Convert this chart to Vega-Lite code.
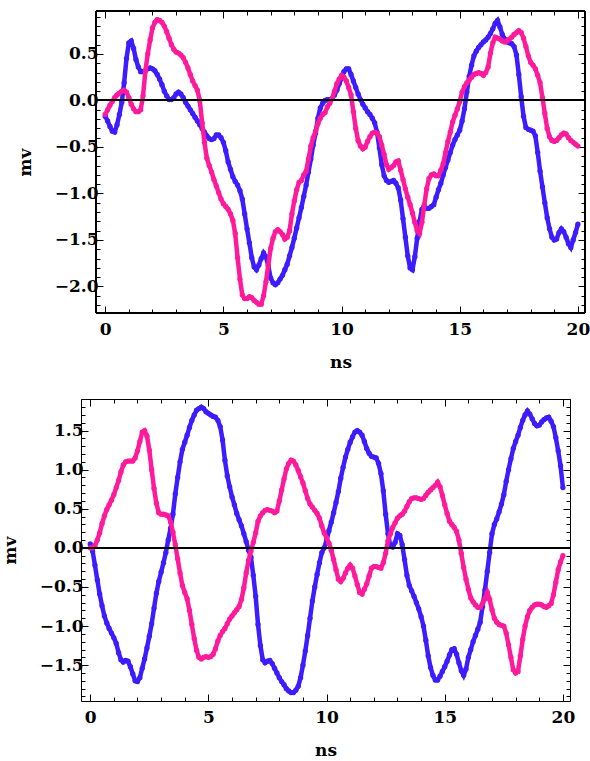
{
  "$schema": "https://vega.github.io/schema/vega-lite/v6.json",
  "background": "white",
  "padding": {"left": 0, "top": 7, "right": 0, "bottom": 0},
  "spacing": 19,
  "config": {
    "view": {"stroke": "#000000", "strokeWidth": 1},
    "axis": {
      "labelFont": "DejaVu Serif", "labelFontWeight": "bold", "labelFontSize": 17, "labelColor": "#000000",
      "titleFont": "DejaVu Serif", "titleFontWeight": "bold", "titleFontSize": 17, "titleColor": "#000000",
      "domain": false, "grid": false, "tickColor": "#000000", "tickWidth": 1,
      "labelOverlap": false, "labelFlush": false, "labelBound": false
    }
  },
  "datasets": {
    "top": [
      {"ns":0,"blue":-0.17,"pink":-0.15},{"ns":0.1,"blue":-0.22,"pink":-0.10},{"ns":0.2,"blue":-0.28,"pink":-0.05},{"ns":0.3,"blue":-0.33,"pink":-0.01},{"ns":0.4,"blue":-0.34,"pink":0.03},
      {"ns":0.5,"blue":-0.26,"pink":0.06},{"ns":0.6,"blue":-0.15,"pink":0.08},{"ns":0.7,"blue":-0.02,"pink":0.10},{"ns":0.8,"blue":0.19,"pink":0.11},{"ns":0.9,"blue":0.45,"pink":0.09},
      {"ns":1.0,"blue":0.62,"pink":0.03},{"ns":1.1,"blue":0.64,"pink":-0.04},{"ns":1.2,"blue":0.56,"pink":-0.09},{"ns":1.3,"blue":0.44,"pink":-0.12},{"ns":1.4,"blue":0.36,"pink":-0.12},
      {"ns":1.5,"blue":0.31,"pink":-0.10},{"ns":1.6,"blue":0.31,"pink":0.05},{"ns":1.7,"blue":0.32,"pink":0.32},{"ns":1.8,"blue":0.34,"pink":0.50},{"ns":1.9,"blue":0.35,"pink":0.65},
      {"ns":2.0,"blue":0.34,"pink":0.78},{"ns":2.1,"blue":0.32,"pink":0.84},{"ns":2.2,"blue":0.28,"pink":0.87},{"ns":2.3,"blue":0.23,"pink":0.86},{"ns":2.4,"blue":0.17,"pink":0.84},
      {"ns":2.5,"blue":0.10,"pink":0.80},{"ns":2.6,"blue":0.05,"pink":0.74},{"ns":2.7,"blue":0.01,"pink":0.67},{"ns":2.8,"blue":0.01,"pink":0.60},{"ns":2.9,"blue":0.03,"pink":0.55},
      {"ns":3.0,"blue":0.07,"pink":0.52},{"ns":3.1,"blue":0.09,"pink":0.51},{"ns":3.2,"blue":0.07,"pink":0.49},{"ns":3.3,"blue":0.03,"pink":0.46},{"ns":3.4,"blue":-0.02,"pink":0.41},
      {"ns":3.5,"blue":-0.06,"pink":0.35},{"ns":3.6,"blue":-0.10,"pink":0.28},{"ns":3.7,"blue":-0.14,"pink":0.21},{"ns":3.8,"blue":-0.18,"pink":0.16},{"ns":3.9,"blue":-0.22,"pink":0.11},
      {"ns":4.0,"blue":-0.26,"pink":0.00},{"ns":4.1,"blue":-0.30,"pink":-0.24},{"ns":4.2,"blue":-0.34,"pink":-0.45},{"ns":4.3,"blue":-0.38,"pink":-0.62},{"ns":4.4,"blue":-0.41,"pink":-0.70},
      {"ns":4.5,"blue":-0.42,"pink":-0.77},{"ns":4.6,"blue":-0.41,"pink":-0.85},{"ns":4.7,"blue":-0.37,"pink":-0.92},{"ns":4.8,"blue":-0.37,"pink":-0.99},{"ns":4.9,"blue":-0.40,"pink":-1.06},
      {"ns":5.0,"blue":-0.45,"pink":-1.11},{"ns":5.1,"blue":-0.54,"pink":-1.14},{"ns":5.2,"blue":-0.66,"pink":-1.17},{"ns":5.3,"blue":-0.74,"pink":-1.22},{"ns":5.4,"blue":-0.82,"pink":-1.29},
      {"ns":5.5,"blue":-0.87,"pink":-1.43},{"ns":5.6,"blue":-0.91,"pink":-1.69},{"ns":5.7,"blue":-0.97,"pink":-1.92},{"ns":5.8,"blue":-1.06,"pink":-2.09},{"ns":5.9,"blue":-1.22,"pink":-2.13},
      {"ns":6.0,"blue":-1.38,"pink":-2.13},{"ns":6.1,"blue":-1.53,"pink":-2.11},{"ns":6.2,"blue":-1.69,"pink":-2.12},{"ns":6.3,"blue":-1.79,"pink":-2.15},{"ns":6.4,"blue":-1.82,"pink":-2.17},
      {"ns":6.5,"blue":-1.77,"pink":-2.19},{"ns":6.6,"blue":-1.70,"pink":-2.19},{"ns":6.7,"blue":-1.64,"pink":-2.10},{"ns":6.8,"blue":-1.68,"pink":-1.95},{"ns":6.9,"blue":-1.78,"pink":-1.77},
      {"ns":7.0,"blue":-1.91,"pink":-1.59},{"ns":7.1,"blue":-1.96,"pink":-1.48},{"ns":7.2,"blue":-1.98,"pink":-1.41},{"ns":7.3,"blue":-1.96,"pink":-1.39},{"ns":7.4,"blue":-1.92,"pink":-1.41},
      {"ns":7.5,"blue":-1.88,"pink":-1.44},{"ns":7.6,"blue":-1.82,"pink":-1.49},{"ns":7.7,"blue":-1.76,"pink":-1.47},{"ns":7.8,"blue":-1.67,"pink":-1.40},{"ns":7.9,"blue":-1.58,"pink":-1.22},
      {"ns":8.0,"blue":-1.48,"pink":-1.08},{"ns":8.1,"blue":-1.37,"pink":-0.96},{"ns":8.2,"blue":-1.26,"pink":-0.88},{"ns":8.3,"blue":-1.15,"pink":-0.86},{"ns":8.4,"blue":-1.03,"pink":-0.80},
      {"ns":8.5,"blue":-0.91,"pink":-0.76},{"ns":8.6,"blue":-0.77,"pink":-0.63},{"ns":8.7,"blue":-0.63,"pink":-0.49},{"ns":8.8,"blue":-0.48,"pink":-0.40},{"ns":8.9,"blue":-0.35,"pink":-0.33},
      {"ns":9.0,"blue":-0.19,"pink":-0.25},{"ns":9.1,"blue":-0.08,"pink":-0.19},{"ns":9.2,"blue":-0.03,"pink":-0.15},{"ns":9.3,"blue":0.00,"pink":-0.13},{"ns":9.4,"blue":0.01,"pink":-0.07},
      {"ns":9.5,"blue":0.01,"pink":-0.03},{"ns":9.6,"blue":0.02,"pink":0.02},{"ns":9.7,"blue":0.06,"pink":0.10},{"ns":9.8,"blue":0.11,"pink":0.18},{"ns":9.9,"blue":0.18,"pink":0.23},
      {"ns":10.0,"blue":0.24,"pink":0.27},{"ns":10.1,"blue":0.31,"pink":0.25},{"ns":10.2,"blue":0.34,"pink":0.21},{"ns":10.3,"blue":0.34,"pink":0.14},{"ns":10.4,"blue":0.28,"pink":0.06},
      {"ns":10.5,"blue":0.21,"pink":-0.12},{"ns":10.6,"blue":0.14,"pink":-0.30},{"ns":10.7,"blue":0.07,"pink":-0.43},{"ns":10.8,"blue":0.01,"pink":-0.49},{"ns":10.9,"blue":-0.04,"pink":-0.52},
      {"ns":11.0,"blue":-0.08,"pink":-0.50},{"ns":11.1,"blue":-0.12,"pink":-0.44},{"ns":11.2,"blue":-0.15,"pink":-0.39},{"ns":11.3,"blue":-0.19,"pink":-0.35},{"ns":11.4,"blue":-0.24,"pink":-0.34},
      {"ns":11.5,"blue":-0.34,"pink":-0.35},{"ns":11.6,"blue":-0.51,"pink":-0.39},{"ns":11.7,"blue":-0.69,"pink":-0.48},{"ns":11.8,"blue":-0.81,"pink":-0.58},{"ns":11.9,"blue":-0.86,"pink":-0.69},
      {"ns":12.0,"blue":-0.88,"pink":-0.74},{"ns":12.1,"blue":-0.87,"pink":-0.72},{"ns":12.2,"blue":-0.86,"pink":-0.70},{"ns":12.3,"blue":-0.89,"pink":-0.66},{"ns":12.4,"blue":-0.94,"pink":-0.65},
      {"ns":12.5,"blue":-1.07,"pink":-0.75},{"ns":12.6,"blue":-1.27,"pink":-0.85},{"ns":12.7,"blue":-1.47,"pink":-0.95},{"ns":12.8,"blue":-1.67,"pink":-1.04},{"ns":12.9,"blue":-1.80,"pink":-1.12},
      {"ns":13.0,"blue":-1.82,"pink":-1.21},{"ns":13.1,"blue":-1.68,"pink":-1.31},{"ns":13.2,"blue":-1.48,"pink":-1.40},{"ns":13.3,"blue":-1.30,"pink":-1.43},{"ns":13.4,"blue":-1.17,"pink":-1.31},
      {"ns":13.5,"blue":-1.13,"pink":-1.12},{"ns":13.6,"blue":-1.16,"pink":-0.95},{"ns":13.7,"blue":-1.16,"pink":-0.84},{"ns":13.8,"blue":-1.14,"pink":-0.80},{"ns":13.9,"blue":-1.12,"pink":-0.79},
      {"ns":14.0,"blue":-1.04,"pink":-0.81},{"ns":14.1,"blue":-0.96,"pink":-0.81},{"ns":14.2,"blue":-0.89,"pink":-0.75},{"ns":14.3,"blue":-0.80,"pink":-0.68},{"ns":14.4,"blue":-0.72,"pink":-0.56},
      {"ns":14.5,"blue":-0.64,"pink":-0.44},{"ns":14.6,"blue":-0.56,"pink":-0.34},{"ns":14.7,"blue":-0.48,"pink":-0.23},{"ns":14.8,"blue":-0.42,"pink":-0.16},{"ns":14.9,"blue":-0.37,"pink":-0.09},
      {"ns":15.0,"blue":-0.32,"pink":-0.01},{"ns":15.1,"blue":-0.22,"pink":0.09},{"ns":15.2,"blue":-0.09,"pink":0.15},{"ns":15.3,"blue":0.09,"pink":0.19},{"ns":15.4,"blue":0.26,"pink":0.22},
      {"ns":15.5,"blue":0.38,"pink":0.25},{"ns":15.6,"blue":0.48,"pink":0.28},{"ns":15.7,"blue":0.53,"pink":0.29},{"ns":15.8,"blue":0.57,"pink":0.30},{"ns":15.9,"blue":0.60,"pink":0.29},
      {"ns":16.0,"blue":0.63,"pink":0.27},{"ns":16.1,"blue":0.65,"pink":0.30},{"ns":16.2,"blue":0.68,"pink":0.36},{"ns":16.3,"blue":0.72,"pink":0.51},{"ns":16.4,"blue":0.77,"pink":0.62},
      {"ns":16.5,"blue":0.83,"pink":0.68},{"ns":16.6,"blue":0.86,"pink":0.67},{"ns":16.7,"blue":0.79,"pink":0.66},{"ns":16.8,"blue":0.71,"pink":0.64},{"ns":16.9,"blue":0.66,"pink":0.63},
      {"ns":17.0,"blue":0.63,"pink":0.64},{"ns":17.1,"blue":0.62,"pink":0.66},{"ns":17.2,"blue":0.61,"pink":0.68},{"ns":17.3,"blue":0.58,"pink":0.71},{"ns":17.4,"blue":0.49,"pink":0.73},
      {"ns":17.5,"blue":0.28,"pink":0.75},{"ns":17.6,"blue":0.04,"pink":0.73},{"ns":17.7,"blue":-0.17,"pink":0.67},{"ns":17.8,"blue":-0.29,"pink":0.58},{"ns":17.9,"blue":-0.31,"pink":0.48},
      {"ns":18.0,"blue":-0.32,"pink":0.41},{"ns":18.1,"blue":-0.33,"pink":0.38},{"ns":18.2,"blue":-0.38,"pink":0.34},{"ns":18.3,"blue":-0.56,"pink":0.27},{"ns":18.4,"blue":-0.76,"pink":0.19},
      {"ns":18.5,"blue":-0.93,"pink":0.03},{"ns":18.6,"blue":-1.10,"pink":-0.14},{"ns":18.7,"blue":-1.26,"pink":-0.30},{"ns":18.8,"blue":-1.38,"pink":-0.39},{"ns":18.9,"blue":-1.47,"pink":-0.43},
      {"ns":19.0,"blue":-1.50,"pink":-0.44},{"ns":19.1,"blue":-1.49,"pink":-0.43},{"ns":19.2,"blue":-1.42,"pink":-0.40},{"ns":19.3,"blue":-1.38,"pink":-0.37},{"ns":19.4,"blue":-1.41,"pink":-0.35},
      {"ns":19.5,"blue":-1.47,"pink":-0.36},{"ns":19.6,"blue":-1.54,"pink":-0.40},{"ns":19.7,"blue":-1.58,"pink":-0.43},{"ns":19.8,"blue":-1.50,"pink":-0.45},{"ns":19.9,"blue":-1.42,"pink":-0.47},
      {"ns":20.0,"blue":-1.33,"pink":-0.49}
    ],
    "bottom": [
      {"ns":0,"blue":0.05,"pink":0.00},{"ns":0.1,"blue":-0.04,"pink":0.00},{"ns":0.2,"blue":-0.22,"pink":0.03},{"ns":0.3,"blue":-0.41,"pink":0.10},{"ns":0.4,"blue":-0.59,"pink":0.19},
      {"ns":0.5,"blue":-0.74,"pink":0.31},{"ns":0.6,"blue":-0.87,"pink":0.41},{"ns":0.7,"blue":-0.96,"pink":0.49},{"ns":0.8,"blue":-1.03,"pink":0.55},{"ns":0.9,"blue":-1.09,"pink":0.61},
      {"ns":1.0,"blue":-1.15,"pink":0.68},{"ns":1.1,"blue":-1.22,"pink":0.77},{"ns":1.2,"blue":-1.34,"pink":0.86},{"ns":1.3,"blue":-1.43,"pink":0.97},{"ns":1.4,"blue":-1.46,"pink":1.06},
      {"ns":1.5,"blue":-1.44,"pink":1.10},{"ns":1.6,"blue":-1.45,"pink":1.11},{"ns":1.7,"blue":-1.52,"pink":1.11},{"ns":1.8,"blue":-1.61,"pink":1.11},{"ns":1.9,"blue":-1.70,"pink":1.15},
      {"ns":2.0,"blue":-1.71,"pink":1.24},{"ns":2.1,"blue":-1.66,"pink":1.36},{"ns":2.2,"blue":-1.54,"pink":1.48},{"ns":2.3,"blue":-1.42,"pink":1.50},{"ns":2.4,"blue":-1.28,"pink":1.43},
      {"ns":2.5,"blue":-1.13,"pink":1.25},{"ns":2.6,"blue":-0.97,"pink":1.00},{"ns":2.7,"blue":-0.77,"pink":0.76},{"ns":2.8,"blue":-0.58,"pink":0.57},{"ns":2.9,"blue":-0.43,"pink":0.45},
      {"ns":3.0,"blue":-0.31,"pink":0.43},{"ns":3.1,"blue":-0.19,"pink":0.43},{"ns":3.2,"blue":-0.06,"pink":0.42},{"ns":3.3,"blue":0.10,"pink":0.41},{"ns":3.4,"blue":0.25,"pink":0.33},
      {"ns":3.5,"blue":0.43,"pink":0.20},{"ns":3.6,"blue":0.69,"pink":0.04},{"ns":3.7,"blue":0.90,"pink":-0.14},{"ns":3.8,"blue":1.10,"pink":-0.32},{"ns":3.9,"blue":1.26,"pink":-0.48},
      {"ns":4.0,"blue":1.35,"pink":-0.57},{"ns":4.1,"blue":1.44,"pink":-0.65},{"ns":4.2,"blue":1.54,"pink":-0.80},{"ns":4.3,"blue":1.63,"pink":-0.98},{"ns":4.4,"blue":1.70,"pink":-1.16},
      {"ns":4.5,"blue":1.76,"pink":-1.31},{"ns":4.6,"blue":1.78,"pink":-1.40},{"ns":4.7,"blue":1.80,"pink":-1.42},{"ns":4.8,"blue":1.78,"pink":-1.40},{"ns":4.9,"blue":1.74,"pink":-1.39},
      {"ns":5.0,"blue":1.72,"pink":-1.40},{"ns":5.1,"blue":1.70,"pink":-1.39},{"ns":5.2,"blue":1.68,"pink":-1.36},{"ns":5.3,"blue":1.67,"pink":-1.29},{"ns":5.4,"blue":1.63,"pink":-1.19},
      {"ns":5.5,"blue":1.55,"pink":-1.12},{"ns":5.6,"blue":1.38,"pink":-1.07},{"ns":5.7,"blue":1.12,"pink":-1.03},{"ns":5.8,"blue":0.92,"pink":-0.97},{"ns":5.9,"blue":0.78,"pink":-0.91},
      {"ns":6.0,"blue":0.65,"pink":-0.87},{"ns":6.1,"blue":0.55,"pink":-0.83},{"ns":6.2,"blue":0.44,"pink":-0.79},{"ns":6.3,"blue":0.36,"pink":-0.75},{"ns":6.4,"blue":0.28,"pink":-0.66},
      {"ns":6.5,"blue":0.18,"pink":-0.51},{"ns":6.6,"blue":0.08,"pink":-0.32},{"ns":6.7,"blue":-0.03,"pink":-0.16},{"ns":6.8,"blue":-0.12,"pink":-0.04},{"ns":6.9,"blue":-0.35,"pink":0.07},
      {"ns":7.0,"blue":-0.62,"pink":0.19},{"ns":7.1,"blue":-0.98,"pink":0.34},{"ns":7.2,"blue":-1.25,"pink":0.41},{"ns":7.3,"blue":-1.43,"pink":0.45},{"ns":7.4,"blue":-1.47,"pink":0.48},
      {"ns":7.5,"blue":-1.45,"pink":0.49},{"ns":7.6,"blue":-1.44,"pink":0.48},{"ns":7.7,"blue":-1.48,"pink":0.47},{"ns":7.8,"blue":-1.54,"pink":0.45},{"ns":7.9,"blue":-1.60,"pink":0.47},
      {"ns":8.0,"blue":-1.66,"pink":0.60},{"ns":8.1,"blue":-1.71,"pink":0.74},{"ns":8.2,"blue":-1.75,"pink":0.88},{"ns":8.3,"blue":-1.80,"pink":1.01},{"ns":8.4,"blue":-1.83,"pink":1.08},
      {"ns":8.5,"blue":-1.85,"pink":1.12},{"ns":8.6,"blue":-1.85,"pink":1.11},{"ns":8.7,"blue":-1.82,"pink":1.06},{"ns":8.8,"blue":-1.77,"pink":0.99},{"ns":8.9,"blue":-1.66,"pink":0.91},
      {"ns":9.0,"blue":-1.50,"pink":0.83},{"ns":9.1,"blue":-1.32,"pink":0.73},{"ns":9.2,"blue":-1.12,"pink":0.63},{"ns":9.3,"blue":-0.90,"pink":0.56},{"ns":9.4,"blue":-0.68,"pink":0.52},
      {"ns":9.5,"blue":-0.50,"pink":0.48},{"ns":9.6,"blue":-0.34,"pink":0.44},{"ns":9.7,"blue":-0.19,"pink":0.38},{"ns":9.8,"blue":-0.06,"pink":0.28},{"ns":9.9,"blue":0.00,"pink":0.19},
      {"ns":10.0,"blue":0.10,"pink":0.13},{"ns":10.1,"blue":0.22,"pink":0.06},{"ns":10.2,"blue":0.33,"pink":-0.03},{"ns":10.3,"blue":0.45,"pink":-0.15},{"ns":10.4,"blue":0.58,"pink":-0.28},
      {"ns":10.5,"blue":0.72,"pink":-0.40},{"ns":10.6,"blue":0.89,"pink":-0.43},{"ns":10.7,"blue":1.03,"pink":-0.39},{"ns":10.8,"blue":1.16,"pink":-0.32},{"ns":10.9,"blue":1.26,"pink":-0.26},
      {"ns":11.0,"blue":1.35,"pink":-0.22},{"ns":11.1,"blue":1.42,"pink":-0.26},{"ns":11.2,"blue":1.48,"pink":-0.36},{"ns":11.3,"blue":1.50,"pink":-0.47},{"ns":11.4,"blue":1.48,"pink":-0.57},
      {"ns":11.5,"blue":1.44,"pink":-0.59},{"ns":11.6,"blue":1.36,"pink":-0.53},{"ns":11.7,"blue":1.27,"pink":-0.46},{"ns":11.8,"blue":1.21,"pink":-0.36},{"ns":11.9,"blue":1.17,"pink":-0.26},
      {"ns":12.0,"blue":1.16,"pink":-0.24},{"ns":12.1,"blue":1.15,"pink":-0.24},{"ns":12.2,"blue":1.08,"pink":-0.25},{"ns":12.3,"blue":0.95,"pink":-0.26},{"ns":12.4,"blue":0.73,"pink":-0.19},
      {"ns":12.5,"blue":0.43,"pink":-0.07},{"ns":12.6,"blue":0.18,"pink":0.09},{"ns":12.7,"blue":0.02,"pink":0.18},{"ns":12.8,"blue":0.01,"pink":0.26},{"ns":12.9,"blue":0.07,"pink":0.32},
      {"ns":13.0,"blue":0.18,"pink":0.38},{"ns":13.1,"blue":0.16,"pink":0.41},{"ns":13.2,"blue":0.04,"pink":0.43},{"ns":13.3,"blue":-0.15,"pink":0.47},{"ns":13.4,"blue":-0.35,"pink":0.53},
      {"ns":13.5,"blue":-0.48,"pink":0.59},{"ns":13.6,"blue":-0.55,"pink":0.63},{"ns":13.7,"blue":-0.62,"pink":0.64},{"ns":13.8,"blue":-0.70,"pink":0.64},{"ns":13.9,"blue":-0.78,"pink":0.63},
      {"ns":14.0,"blue":-0.88,"pink":0.62},{"ns":14.1,"blue":-1.00,"pink":0.63},{"ns":14.2,"blue":-1.18,"pink":0.67},{"ns":14.3,"blue":-1.38,"pink":0.71},{"ns":14.4,"blue":-1.53,"pink":0.74},
      {"ns":14.5,"blue":-1.63,"pink":0.77},{"ns":14.6,"blue":-1.69,"pink":0.80},{"ns":14.7,"blue":-1.69,"pink":0.84},{"ns":14.8,"blue":-1.64,"pink":0.78},{"ns":14.9,"blue":-1.58,"pink":0.67},
      {"ns":15.0,"blue":-1.52,"pink":0.55},{"ns":15.1,"blue":-1.45,"pink":0.44},{"ns":15.2,"blue":-1.37,"pink":0.34},{"ns":15.3,"blue":-1.30,"pink":0.30},{"ns":15.4,"blue":-1.29,"pink":0.26},
      {"ns":15.5,"blue":-1.36,"pink":0.21},{"ns":15.6,"blue":-1.47,"pink":0.10},{"ns":15.7,"blue":-1.57,"pink":-0.07},{"ns":15.8,"blue":-1.63,"pink":-0.25},{"ns":15.9,"blue":-1.55,"pink":-0.40},
      {"ns":16.0,"blue":-1.40,"pink":-0.53},{"ns":16.1,"blue":-1.30,"pink":-0.64},{"ns":16.2,"blue":-1.20,"pink":-0.69},{"ns":16.3,"blue":-1.12,"pink":-0.73},{"ns":16.4,"blue":-1.04,"pink":-0.76},
      {"ns":16.5,"blue":-0.95,"pink":-0.76},{"ns":16.6,"blue":-0.75,"pink":-0.71},{"ns":16.7,"blue":-0.54,"pink":-0.65},{"ns":16.8,"blue":-0.30,"pink":-0.57},{"ns":16.9,"blue":-0.06,"pink":-0.66},
      {"ns":17.0,"blue":0.18,"pink":-0.79},{"ns":17.1,"blue":0.30,"pink":-0.90},{"ns":17.2,"blue":0.37,"pink":-0.95},{"ns":17.3,"blue":0.46,"pink":-0.98},{"ns":17.4,"blue":0.56,"pink":-0.99},
      {"ns":17.5,"blue":0.68,"pink":-1.00},{"ns":17.6,"blue":0.85,"pink":-1.09},{"ns":17.7,"blue":1.00,"pink":-1.24},{"ns":17.8,"blue":1.14,"pink":-1.40},{"ns":17.9,"blue":1.27,"pink":-1.56},
      {"ns":18.0,"blue":1.36,"pink":-1.60},{"ns":18.1,"blue":1.44,"pink":-1.58},{"ns":18.2,"blue":1.54,"pink":-1.38},{"ns":18.3,"blue":1.63,"pink":-1.17},{"ns":18.4,"blue":1.70,"pink":-1.00},
      {"ns":18.5,"blue":1.75,"pink":-0.88},{"ns":18.6,"blue":1.71,"pink":-0.80},{"ns":18.7,"blue":1.65,"pink":-0.76},{"ns":18.8,"blue":1.59,"pink":-0.73},{"ns":18.9,"blue":1.56,"pink":-0.72},
      {"ns":19.0,"blue":1.57,"pink":-0.72},{"ns":19.1,"blue":1.61,"pink":-0.73},{"ns":19.2,"blue":1.64,"pink":-0.75},{"ns":19.3,"blue":1.66,"pink":-0.76},{"ns":19.4,"blue":1.67,"pink":-0.74},
      {"ns":19.5,"blue":1.62,"pink":-0.71},{"ns":19.6,"blue":1.55,"pink":-0.60},{"ns":19.7,"blue":1.41,"pink":-0.44},{"ns":19.8,"blue":1.24,"pink":-0.28},{"ns":19.9,"blue":1.05,"pink":-0.18},
      {"ns":20.0,"blue":0.77,"pink":-0.10}
    ]
  },
  "vconcat": [
    {
      "width": 504, "height": 302,
      "view": {"stroke": null},
      "data": {"name": "top"},
      "layer": [
        {
          "mark": {"type": "line", "color": "#3b1dff", "strokeWidth": 4.5},
          "encoding": {
            "x": {"field": "ns", "type": "quantitative", "scale": {"domain": [-1.025, 20.3], "nice": false, "zero": false},
              "axis": {"orient": "bottom", "title": "ns", "titleX": 259.5, "values": [0,1,2,3,4,5,6,7,8,9,10,11,12,13,14,15,16,17,18,19,20],
                "labelExpr": "datum.value % 5 === 0 ? datum.label : ''",
                "tickSize": {"condition": {"test": "datum.value % 5 === 0", "value": -7}, "value": -4},
                "labelPadding": 15, "titlePadding": 14}},
            "y": {"field": "blue", "type": "quantitative", "scale": {"domain": [-2.285, 0.962], "nice": false, "zero": false},
              "axis": {"orient": "left", "title": "mv", "format": ".1f", "offset": -15,
                "values": [-2.2,-2.1,-2,-1.9,-1.8,-1.7,-1.6,-1.5,-1.4,-1.3,-1.2,-1.1,-1,-0.9,-0.8,-0.7,-0.6,-0.5,-0.4,-0.3,-0.2,-0.1,0,0.1,0.2,0.3,0.4,0.5,0.6,0.7,0.8,0.9],
                "labelExpr": "abs(datum.value*2 - round(datum.value*2)) < 0.01 ? datum.label : ''",
                "tickSize": {"condition": {"test": "abs(datum.value*2 - round(datum.value*2)) < 0.01", "value": -7}, "value": -4},
                "labelPadding": 5, "titlePadding": 20}}
          }
        },
        {
          "mark": {"type": "circle", "color": "#3b1dff", "size": 28, "opacity": 1},
          "encoding": {
            "x": {"field": "ns", "type": "quantitative", "scale": {"domain": [-1.025, 20.3], "nice": false, "zero": false}, "axis": null},
            "y": {"field": "blue", "type": "quantitative", "scale": {"domain": [-2.285, 0.962], "nice": false, "zero": false}, "axis": null}
          }
        },
        {
          "mark": {"type": "line", "color": "#ff1a9c", "strokeWidth": 4.5},
          "encoding": {
            "x": {"field": "ns", "type": "quantitative", "scale": {"domain": [-1.025, 20.3], "nice": false, "zero": false},
              "axis": {"orient": "top", "title": null, "labels": false, "values": [0,1,2,3,4,5,6,7,8,9,10,11,12,13,14,15,16,17,18,19,20],
                "tickSize": {"condition": {"test": "datum.value % 5 === 0", "value": -7}, "value": -4}}},
            "y": {"field": "pink", "type": "quantitative", "scale": {"domain": [-2.285, 0.962], "nice": false, "zero": false},
              "axis": {"orient": "right", "title": null, "labels": false,
                "values": [-2.2,-2.1,-2,-1.9,-1.8,-1.7,-1.6,-1.5,-1.4,-1.3,-1.2,-1.1,-1,-0.9,-0.8,-0.7,-0.6,-0.5,-0.4,-0.3,-0.2,-0.1,0,0.1,0.2,0.3,0.4,0.5,0.6,0.7,0.8,0.9],
                "tickSize": {"condition": {"test": "abs(datum.value*2 - round(datum.value*2)) < 0.01", "value": -7}, "value": -4}}}
          }
        },
        {
          "mark": {"type": "circle", "color": "#ff1a9c", "size": 28, "opacity": 1},
          "encoding": {
            "x": {"field": "ns", "type": "quantitative", "scale": {"domain": [-1.025, 20.3], "nice": false, "zero": false}, "axis": null},
            "y": {"field": "pink", "type": "quantitative", "scale": {"domain": [-2.285, 0.962], "nice": false, "zero": false}, "axis": null}
          }
        },
        {
          "mark": {"type": "rule", "color": "#000000", "strokeWidth": 1},
          "encoding": {
            "x": {"datum": -0.39, "type": "quantitative", "scale": {"domain": [-1.025, 20.3], "nice": false, "zero": false}, "axis": null},
            "x2": {"datum": 20.3},
            "y": {"datum": 0, "type": "quantitative", "scale": {"domain": [-2.285, 0.962], "nice": false, "zero": false}, "axis": null}
          }
        },
        {
          "mark": {"type": "rule", "color": "#000000", "strokeWidth": 1},
          "encoding": {
            "x": {"datum": -0.39, "type": "quantitative", "scale": {"domain": [-1.025, 20.3], "nice": false, "zero": false}, "axis": null},
            "x2": {"datum": 20.3},
            "y": {"datum": 0.962, "type": "quantitative", "scale": {"domain": [-2.285, 0.962], "nice": false, "zero": false}, "axis": null}
          }
        },
        {
          "mark": {"type": "rule", "color": "#000000", "strokeWidth": 1},
          "encoding": {
            "x": {"datum": -0.39, "type": "quantitative", "scale": {"domain": [-1.025, 20.3], "nice": false, "zero": false}, "axis": null},
            "x2": {"datum": 20.3},
            "y": {"datum": -2.285, "type": "quantitative", "scale": {"domain": [-2.285, 0.962], "nice": false, "zero": false}, "axis": null}
          }
        },
        {
          "mark": {"type": "rule", "color": "#000000", "strokeWidth": 1},
          "encoding": {
            "x": {"datum": -0.39, "type": "quantitative", "scale": {"domain": [-1.025, 20.3], "nice": false, "zero": false}, "axis": null}
          }
        },
        {
          "mark": {"type": "rule", "color": "#000000", "strokeWidth": 1},
          "encoding": {
            "x": {"datum": 20.3, "type": "quantitative", "scale": {"domain": [-1.025, 20.3], "nice": false, "zero": false}, "axis": null}
          }
        }
      ],
      "resolve": {"axis": {"x": "independent", "y": "independent"}}
    },
    {
      "width": 489, "height": 302,
      "data": {"name": "bottom"},
      "layer": [
        {
          "mark": {"type": "line", "color": "#3b1dff", "strokeWidth": 4.5},
          "encoding": {
            "x": {"field": "ns", "type": "quantitative", "scale": {"domain": [-0.39, 20.3], "nice": false, "zero": false},
              "axis": {"orient": "bottom", "title": "ns", "values": [0,1,2,3,4,5,6,7,8,9,10,11,12,13,14,15,16,17,18,19,20],
                "labelExpr": "datum.value % 5 === 0 ? datum.label : ''",
                "tickSize": {"condition": {"test": "datum.value % 5 === 0", "value": -7}, "value": -4},
                "labelPadding": 15, "titlePadding": 14}},
            "y": {"field": "blue", "type": "quantitative", "scale": {"domain": [-1.958, 1.903], "nice": false, "zero": false},
              "axis": {"orient": "left", "title": "mv", "format": ".1f",
                "values": [-1.9,-1.8,-1.7,-1.6,-1.5,-1.4,-1.3,-1.2,-1.1,-1,-0.9,-0.8,-0.7,-0.6,-0.5,-0.4,-0.3,-0.2,-0.1,0,0.1,0.2,0.3,0.4,0.5,0.6,0.7,0.8,0.9,1,1.1,1.2,1.3,1.4,1.5,1.6,1.7,1.8,1.9],
                "labelExpr": "abs(datum.value*2 - round(datum.value*2)) < 0.01 ? datum.label : ''",
                "tickSize": {"condition": {"test": "abs(datum.value*2 - round(datum.value*2)) < 0.01", "value": -7}, "value": -4},
                "labelPadding": 5, "titlePadding": 20}}
          }
        },
        {
          "mark": {"type": "circle", "color": "#3b1dff", "size": 28, "opacity": 1},
          "encoding": {
            "x": {"field": "ns", "type": "quantitative", "scale": {"domain": [-0.39, 20.3], "nice": false, "zero": false}, "axis": null},
            "y": {"field": "blue", "type": "quantitative", "scale": {"domain": [-1.958, 1.903], "nice": false, "zero": false}, "axis": null}
          }
        },
        {
          "mark": {"type": "line", "color": "#ff1a9c", "strokeWidth": 4.5},
          "encoding": {
            "x": {"field": "ns", "type": "quantitative", "scale": {"domain": [-0.39, 20.3], "nice": false, "zero": false},
              "axis": {"orient": "top", "title": null, "labels": false, "values": [0,1,2,3,4,5,6,7,8,9,10,11,12,13,14,15,16,17,18,19,20],
                "tickSize": {"condition": {"test": "datum.value % 5 === 0", "value": -7}, "value": -4}}},
            "y": {"field": "pink", "type": "quantitative", "scale": {"domain": [-1.958, 1.903], "nice": false, "zero": false},
              "axis": {"orient": "right", "title": null, "labels": false,
                "values": [-1.9,-1.8,-1.7,-1.6,-1.5,-1.4,-1.3,-1.2,-1.1,-1,-0.9,-0.8,-0.7,-0.6,-0.5,-0.4,-0.3,-0.2,-0.1,0,0.1,0.2,0.3,0.4,0.5,0.6,0.7,0.8,0.9,1,1.1,1.2,1.3,1.4,1.5,1.6,1.7,1.8,1.9],
                "tickSize": {"condition": {"test": "abs(datum.value*2 - round(datum.value*2)) < 0.01", "value": -7}, "value": -4}}}
          }
        },
        {
          "mark": {"type": "circle", "color": "#ff1a9c", "size": 28, "opacity": 1},
          "encoding": {
            "x": {"field": "ns", "type": "quantitative", "scale": {"domain": [-0.39, 20.3], "nice": false, "zero": false}, "axis": null},
            "y": {"field": "pink", "type": "quantitative", "scale": {"domain": [-1.958, 1.903], "nice": false, "zero": false}, "axis": null}
          }
        },
        {
          "mark": {"type": "rule", "color": "#000000", "strokeWidth": 1},
          "encoding": {
            "y": {"datum": 0, "type": "quantitative", "scale": {"domain": [-1.958, 1.903], "nice": false, "zero": false}, "axis": null}
          }
        }
      ],
      "resolve": {"axis": {"x": "independent", "y": "independent"}}
    }
  ]
}
